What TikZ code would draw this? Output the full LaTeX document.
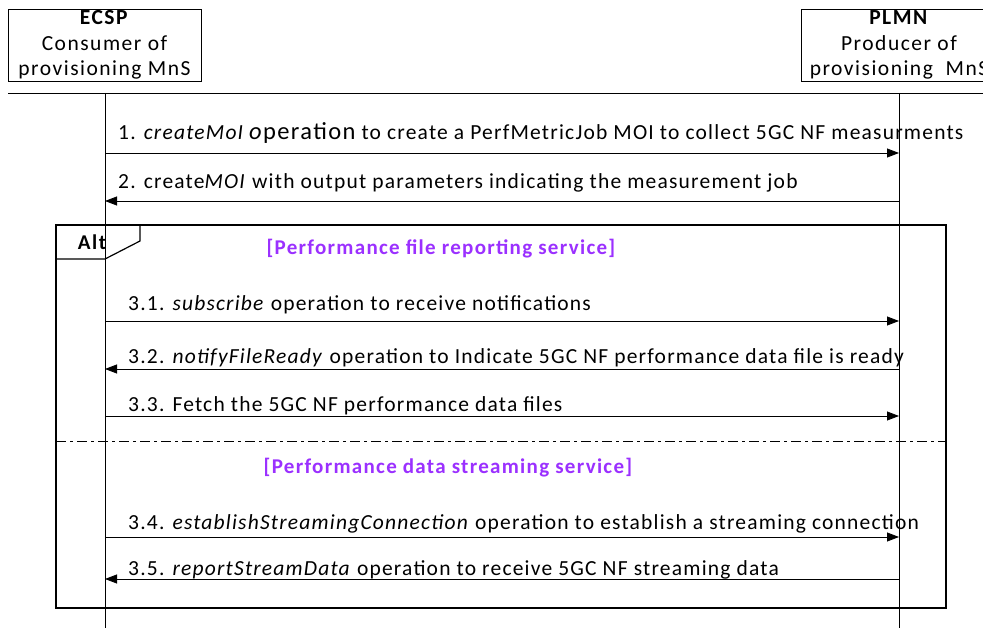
\documentclass[tikz,border=0pt]{standalone}
\usepackage{fontspec}
\setmainfont{Carlito}
\newfontfamily\msgfont[LetterSpace=5.6]{Carlito}
\newfontfamily\hdrfont[LetterSpace=7]{Carlito}
\newfontfamily\guardfont[LetterSpace=6.2]{Carlito}
\usetikzlibrary{arrows.meta}
\definecolor{altpurple}{RGB}{155,48,255}
\tikzset{
  x=1pt, y=-1pt,
  actorbox/.style={draw, line width=0.8pt, minimum width=193pt, minimum height=72pt, align=center, inner sep=0pt,
    font=\hdrfont\fontsize{21.5}{25.5}\selectfont},
  lifeline/.style={line width=0.8pt},
  msg/.style={line width=0.8pt, -{Triangle[length=12pt,width=9pt]}},
  msglabel/.style={anchor=base west, inner sep=0pt, font=\msgfont\fontsize{21.5}{24}\selectfont},
  guard/.style={text=altpurple, font=\guardfont\bfseries\fontsize{21}{24}\selectfont, inner sep=0pt},
  frame/.style={line width=1.2pt},
}
\begin{document}
\begin{tikzpicture}
\useasboundingbox (0,0) rectangle (983,628);
\clip (0,0) rectangle (983,628);
\fill[white] (0,0) rectangle (983,628);

% actors
\node[actorbox] (ecsp) at (104.5,45) {\textbf{ECSP}\\Consumer of\\provisioning MnS};
\node[actorbox, minimum width=196pt] (plmn) at (899,45) {\textbf{PLMN}\\Producer of\\provisioning\ \ MnS};

% header line
\coordinate (hl) at (8,93);
\coordinate (hr) at (983,93);
\draw[lifeline] (hl) -- (hr);

% lifelines
\coordinate (et) at (105,93);
\coordinate (eb) at (105,628);
\coordinate (pt) at (899,93);
\coordinate (pb) at (899,628);
\draw[lifeline] (et) -- (eb);
\draw[lifeline] (pt) -- (pb);

% message anchor points
\foreach \n/\y in {m1/153, m2/201, m31/321, m32/369, m33/416, m34/537, m35/579} {
  \coordinate (e\n) at (105,\y);
  \coordinate (p\n) at (899,\y);
}

% alt frame
\coordinate (fa) at (56,225);
\coordinate (fb) at (946,608);
\draw[frame] (fa) rectangle (fb);
\coordinate (t1) at (140,225);
\coordinate (t2) at (140,241);
\coordinate (t3) at (105,259);
\coordinate (t4) at (56,259);
\draw[frame] (t1) -- (t2) -- (t3) -- (t4);
\node[font=\hdrfont\bfseries\fontsize{21}{24}\selectfont, inner sep=0pt] (alt) at (92,242) {Alt};

% operand separator
\coordinate (sl) at (56,441);
\coordinate (sr) at (946,441);
\draw[line width=1pt, dash pattern=on 10pt off 4pt on 3pt off 4pt] (sl) -- (sr);

% guards
\node[guard] (g1) at (441,249) {[Performance file reporting service]};
\node[guard] (g2) at (448,468) {[Performance data streaming service]};

% messages
\draw[msg] (em1) -- (pm1);
\node[msglabel] (l1) at (118,140) {1. \textit{createMoI {\fontsize{24.5}{26}\selectfont o}}{\fontsize{24.5}{26}\selectfont peration} to create a PerfMetricJob MOI to collect 5GC NF measurments};
\draw[msg] (pm2) -- (em2);
\node[msglabel] (l2) at (118,189) {2. create\textit{MOI} with output parameters indicating the measurement job};

\draw[msg] (em31) -- (pm31);
\node[msglabel] (l31) at (128,311) {3.1. \textit{subscribe} operation to receive notifications};
\draw[msg] (pm32) -- (em32);
\node[msglabel] (l32) at (128,363) {3.2. \textit{notifyFileReady} operation to Indicate 5GC NF performance data file is ready};
\draw[msg] (em33) -- (pm33);
\node[msglabel] (l33) at (128,411) {3.3. Fetch the 5GC NF performance data files};

\draw[msg] (em34) -- (pm34);
\node[msglabel] (l34) at (128,529) {3.4. \textit{establishStreamingConnection} operation to establish a streaming connection};
\draw[msg] (pm35) -- (em35);
\node[msglabel] (l35) at (128,575) {3.5. \textit{reportStreamData} operation to receive 5GC NF streaming data};
\end{tikzpicture}
\end{document}
